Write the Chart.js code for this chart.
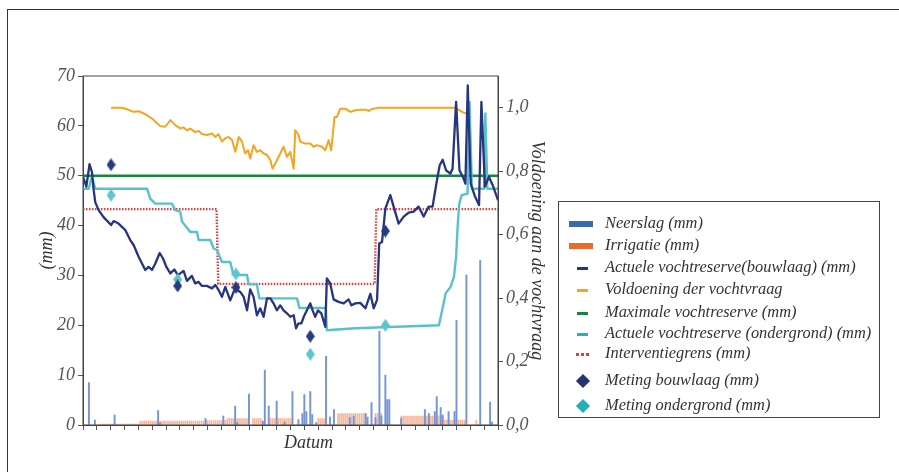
<!DOCTYPE html>
<html>
<head>
<meta charset="utf-8">
<script src="https://cdn.jsdelivr.net/npm/chart.js@4/dist/chart.umd.min.js"></script>
<style>
	body { margin: 0; background: #fff; }
	#wrap { position: relative; width: 899px; height: 472px; overflow: hidden; background: #fff; }
	#frame { position: absolute; left: 7px; top: 9px; width: 1000px; height: 1000px; border: 1.5px solid #333; }
	#chart { position: absolute; left: 0; top: 0; }
	#datum { position: absolute; left: 284px; top: 432px; font: italic 18px "Liberation Serif", serif; color: #333; }
	#legend { position: absolute; left: 558px; top: 201px; width: 322px; height: 217px; box-sizing: border-box;
		border: 1.5px solid #444; font: italic 16.4px "Liberation Serif", serif; color: #333; }
	.item { position: absolute; left: 0; width: 100%; height: 0; }
	.item .t { position: absolute; left: 46px; top: -11px; line-height: 20px; white-space: nowrap; }
	.rect { position: absolute; left: 10px; top: -3px; width: 24px; height: 6px; }
	.dash { position: absolute; left: 18px; top: -1.5px; width: 11px; height: 3px; }
	.dot { position: absolute; top: -1.5px; width: 3px; height: 3px; background: #e53a3a; }
	.ruit { position: absolute; left: 19px; top: -5px; width: 10px; height: 10px; transform: rotate(45deg); }
</style>
</head>
<body>
<div id="wrap">
	<div id="frame"></div>
	<canvas id="chart" width="899" height="472"></canvas>
	<div id="datum">Datum</div>
	<div id="legend">
		<div class="item" style="top:22px"><div class="rect" style="background:#3c68b8"></div><span class="t">Neerslag (mm)</span></div>
		<div class="item" style="top:44px"><div class="rect" style="background:#ec6a2e"></div><span class="t">Irrigatie (mm)</span></div>
		<div class="item" style="top:66px"><div class="dash" style="background:#26357e"></div><span class="t">Actuele vochtreserve(bouwlaag) (mm)</span></div>
		<div class="item" style="top:88px"><div class="dash" style="background:#f5a41d"></div><span class="t">Voldoening der vochtvraag</span></div>
		<div class="item" style="top:111px"><div class="dash" style="background:#17853b"></div><span class="t">Maximale vochtreserve (mm)</span></div>
		<div class="item" style="top:132px"><div class="dash" style="background:#1fb3bd"></div><span class="t">Actuele vochtreserve (ondergrond) (mm)</span></div>
		<div class="item" style="top:152px"><div class="dot" style="left:17px"></div><div class="dot" style="left:22px"></div><div class="dot" style="left:27px"></div><span class="t">Interventiegrens (mm)</span></div>
		<div class="item" style="top:179px"><div class="ruit" style="background:#26336f"></div><span class="t">Meting bouwlaag (mm)</span></div>
		<div class="item" style="top:204px"><div class="ruit" style="background:#1fb0b8"></div><span class="t">Meting ondergrond (mm)</span></div>
	</div>
</div>
<script>
// x = dagnummer in het seizoen (0..210), ticks per week
var neerslagDag = [3, 6, 16, 38, 39, 62, 71, 77, 78, 84, 91, 92, 94, 98, 102, 106, 109, 111, 112, 113, 115, 116, 118, 123, 125,
	127, 135, 137, 143, 144, 146, 148, 150, 151, 153, 154, 155, 161, 173, 175, 178, 179, 181, 182, 185, 188, 189, 194, 201, 206, 207];
var neerslagMm = [8.5, 1.0, 2.0, 2.9, 0.4, 1.3, 1.8, 3.8, 0.5, 6.2, 0.8, 11.0, 3.8, 4.8, 0.6, 6.7, 1.1, 2.3, 6.1, 2.7, 6.7, 2.1, 0.5, 13.8, 1.6,
	3.1, 1.5, 1.8, 2.3, 1.6, 4.5, 1.5, 18.8, 1.8, 10.0, 5.1, 5.1, 1.3, 3.1, 2.3, 2.7, 5.7, 3.5, 2.0, 2.7, 2.7, 21.0, 30.1, 33.0, 4.6, 0.6];

// irrigatie per dag, dag 0 t/m 210
var irrigatieMm = [
	0, 0, 0, 0, 0, 0, 0, 0, 0, 0.2,
	0.2, 0.2, 0.2, 0.2, 0.2, 0.2, 0.2, 0.2, 0.2, 0.2,
	0.2, 0.2, 0.2, 0.2, 0.2, 0.2, 0.2, 0.2, 0.2, 0.8,
	0.8, 0.8, 0.8, 0.8, 0.8, 0.8, 0.8, 0.8, 0.8, 0.8,
	0.8, 0.8, 0.8, 0.8, 0.8, 0.8, 0.8, 0.8, 0.8, 0.8,
	0.8, 0.8, 0.8, 0.8, 0.8, 0.8, 0.8, 0.8, 0.8, 0.8,
	0.8, 0.8, 0.9, 0.9, 0.9, 0.9, 0.9, 0.9, 0.9, 0.9,
	0.9, 0.9, 0.9, 1.3, 1.3, 1.3, 1.3, 1.3, 1.3, 1.3,
	1.3, 1.3, 1.3, 1.3, 0, 0, 1.3, 1.3, 1.3, 1.3,
	1.3, 0, 0, 0, 0, 1.3, 1.3, 1.3, 1.3, 1.3,
	1.3, 1.3, 1.3, 1.3, 1.3, 1.3, 0, 0, 0, 0,
	0, 0, 0, 0, 0, 0, 0, 0, 0, 1.3,
	1.3, 1.3, 1.3, 0, 0, 0, 0, 0, 0, 2.3,
	2.3, 2.3, 2.3, 2.3, 2.3, 2.3, 2.3, 2.3, 2.3, 2.3,
	2.3, 2.3, 2.3, 2.3, 0, 0, 0, 0, 2.3, 2.3,
	2.3, 2.3, 0, 0, 0, 0, 0, 0, 0, 0,
	0, 1.8, 1.8, 1.8, 1.8, 1.8, 1.8, 1.8, 1.8, 1.8,
	1.8, 1.8, 1.8, 1.8, 1.8, 1.8, 1.8, 1.8, 1.8, 1.8,
	1.8, 1.8, 1.8, 1.0, 1.0, 1.0, 1.0, 1.0, 1.0, 0,
	1.0, 1.0, 1.0, 1.0, 0, 0, 0, 0, 0, 1.0,
	0, 0, 0, 0, 0, 0, 0, 0, 0, 0, 0
];

var bouwlaagDag = [0, 1.7, 3.3, 4.5, 5.4, 6.2, 7.9, 10.4, 14.2, 15.5, 18.0, 21.4, 23.9, 25.6, 28.2, 31.5, 33.2, 34.9, 36.6, 38.8,
	40.5, 42.2, 44.2, 46.2, 47.9, 49.2, 50.9, 52.6, 55.1, 56.8, 58.5, 60.2, 62.7, 65.3, 66.9, 68.6, 70.3, 72.0, 74.5, 76.2,
	77.4, 79.6, 81.3, 83.0, 84.6, 86.3, 88.0, 89.7, 91.4, 93.1, 94.8, 96.4, 98.1, 99.8, 101.5, 103.2, 104.9, 106.6, 107.8, 109.1,
	110.5, 111.7, 113.3, 115.0, 116.2, 117.5, 118.9, 120.6, 122.6, 123.4, 125.1, 126.8, 129.3, 131.9, 134.4, 135.8, 137.8, 140.3, 142.9, 145.4,
	147.1, 148.8, 149.9, 151.3, 153.0, 155.5, 157.7, 159.7, 162.3, 164.8, 167.3, 169.8, 172.4, 174.9, 176.9, 179.1, 180.5, 182.0, 183.7, 185.9,
	187.0, 188.8, 190.5, 192.6, 193.5, 194.7, 196.2, 198.2, 200.4, 201.6, 203.4, 205.4, 207.3, 210];
var bouwlaagMm = [49.8, 47.8, 52.3, 50.8, 47.1, 44.7, 43.1, 41.7, 40.1, 40.9, 40.4, 39.1, 37.1, 36.1, 33.7, 31.1, 31.7, 31.1, 32.4, 34.5,
	33.4, 31.7, 30.4, 31.2, 30.1, 30.4, 30.9, 28.9, 29.9, 28.4, 28.7, 27.9, 27.9, 27.4, 28.1, 27.1, 25.7, 27.7, 25.0, 26.7,
	27.2, 26.7, 25.7, 23.0, 27.2, 25.7, 22.0, 23.4, 21.7, 25.4, 25.4, 24.4, 23.0, 24.0, 23.0, 22.4, 21.7, 22.0, 19.4, 20.4,
	20.4, 21.7, 23.0, 24.4, 23.0, 21.7, 23.0, 22.4, 19.7, 29.4, 28.4, 25.2, 24.7, 24.4, 25.2, 24.0, 24.4, 24.5, 23.4, 26.3,
	23.4, 25.1, 36.4, 36.7, 43.4, 46.1, 43.1, 40.4, 41.8, 42.6, 42.8, 43.8, 41.8, 43.8, 43.8, 49.1, 52.1, 53.2, 51.1, 50.4,
	51.4, 64.8, 51.1, 49.4, 48.4, 68.1, 48.4, 46.0, 44.1, 64.8, 47.8, 49.8, 48.1, 45.1];

var ondergrondDag = [0, 2.9, 4.5, 6.2, 32.4, 34.0, 36.6, 45.0, 46.7, 49.2, 50.1, 54.3, 57.7, 58.5, 64.4, 66.1, 67.8, 70.3, 74.5, 76.2,
	83.0, 83.8, 88.0, 89.2, 108.3, 109.5, 122.9, 123.4, 137.8, 180.1, 181.8, 183.5, 186.0, 187.7, 188.8, 189.6, 190.4, 191.6, 194.6, 195.6,
	196.8, 203.0, 203.6, 204.6, 210];
var ondergrondMm = [47.4, 47.4, 49.8, 47.4, 47.4, 45.4, 44.4, 44.4, 43.1, 42.8, 40.8, 38.7, 38.7, 37.1, 37.1, 35.4, 35.1, 32.7, 32.7, 30.1,
	30.1, 28.2, 28.2, 25.4, 25.4, 23.5, 23.5, 19.0, 19.4, 20.0, 23.1, 26.4, 27.7, 29.7, 33.7, 40.0, 44.4, 46.1, 46.4, 64.8,
	47.4, 47.4, 62.5, 47.4, 47.4];

var voldoeningDag = [14.2, 19.7, 22.3, 25.6, 28.2, 31.5, 34.9, 39.1, 41.6, 44.2, 46.7, 49.2, 50.9, 52.6, 54.3, 56.8, 58.5, 60.2, 62.7, 65.3,
	66.9, 68.6, 70.3, 72.0, 73.7, 75.4, 77.1, 78.8, 80.4, 82.1, 83.5, 84.6, 86.3, 88.0, 89.7, 91.4, 93.1, 94.8, 95.9, 97.3,
	99.0, 100.6, 101.5, 103.2, 104.9, 106.6, 107.4, 109.1, 109.9, 112.5, 115.0, 116.7, 118.4, 120.9, 122.6, 124.3, 125.6, 127.3, 128.5, 130.2,
	132.7, 135.3, 137.8, 140.3, 142.9, 144.6, 146.2, 149.6, 188.4, 191.8, 194.8];
var voldoeningFr = [1.0, 1.0, 0.995, 0.987, 0.989, 0.980, 0.966, 0.942, 0.940, 0.961, 0.945, 0.935, 0.938, 0.929, 0.934, 0.923, 0.927, 0.917, 0.914, 0.919,
	0.908, 0.917, 0.893, 0.904, 0.908, 0.898, 0.861, 0.908, 0.893, 0.856, 0.866, 0.840, 0.882, 0.861, 0.866, 0.856, 0.851, 0.835, 0.808, 0.824,
	0.845, 0.866, 0.877, 0.845, 0.861, 0.808, 0.929, 0.914, 0.893, 0.887, 0.887, 0.877, 0.882, 0.877, 0.866, 0.898, 0.866, 0.971, 0.971, 0.997,
	0.997, 0.987, 0.992, 0.994, 0.994, 0.990, 0.996, 1.0, 1.0, 0.987, 0.980];

var maxDag = [0, 210];
var maxMm = [50, 50];
var interventieDag = [0, 67.6, 68.4, 147.6, 148.4, 210];
var interventieMm = [43.3, 43.3, 28.3, 28.3, 43.3, 43.3];

var metingDag = [14.2, 47.9, 77.4, 115, 153];
var metingBouwlaag = [52.2, 27.9, 27.6, 17.8, 38.9];
var metingOndergrond = [46.1, 29.2, 30.3, 14.2, 20.0];

function punten(xs, ys) {
	return xs.map(function(x, i) { return { x: x, y: ys[i] }; });
}

function ruit(kleur) {
	var c = document.createElement('canvas');
	c.width = 9;
	c.height = 13;
	var g = c.getContext('2d');
	g.fillStyle = kleur;
	g.beginPath();
	g.moveTo(4.5, 0);
	g.lineTo(9, 6.5);
	g.lineTo(4.5, 13);
	g.lineTo(0, 6.5);
	g.closePath();
	g.fill();
	return c;
}

var font = { family: 'Liberation Serif', style: 'italic', size: 18 };

// lijn rond het plotvlak
var kader = {
	id: 'kader',
	afterDraw: function(chart) {
		var a = chart.chartArea;
		var ctx = chart.ctx;
		ctx.save();
		ctx.strokeStyle = '#444';
		ctx.lineWidth = 1;
		ctx.strokeRect(a.left, a.top, a.right - a.left, a.bottom - a.top);
		ctx.restore();
	}
};

var line = { type: 'line', pointRadius: 0, tension: 0, fill: false, borderJoinStyle: 'round' };

new Chart(document.getElementById('chart'), {
	type: 'line',
	data: {
		datasets: [
			Object.assign({}, line, { type: 'scatter', label: 'Meting bouwlaag (mm)', data: punten(metingDag, metingBouwlaag),
				pointStyle: ruit('#283a80'), pointRadius: 6, showLine: false, order: 0 }),
			Object.assign({}, line, { type: 'scatter', label: 'Meting ondergrond (mm)', data: punten(metingDag, metingOndergrond),
				pointStyle: ruit('#5cc6cc'), pointRadius: 6, showLine: false, order: 0 }),
			Object.assign({}, line, { label: 'Actuele vochtreserve(bouwlaag) (mm)', data: punten(bouwlaagDag, bouwlaagMm),
				borderColor: '#26357e', borderWidth: 2.3, order: 1 }),
			Object.assign({}, line, { label: 'Voldoening der vochtvraag', data: punten(voldoeningDag, voldoeningFr),
				borderColor: '#f5a41d', borderWidth: 2, yAxisID: 'y1', order: 2 }),
			Object.assign({}, line, { label: 'Actuele vochtreserve (ondergrond) (mm)', data: punten(ondergrondDag, ondergrondMm),
				borderColor: '#58c2ca', borderWidth: 2.4, order: 2 }),
			Object.assign({}, line, { label: 'Interventiegrens (mm)', data: punten(interventieDag, interventieMm),
				borderColor: '#e53a3a', borderWidth: 2.4, borderDash: [1.5, 1.5], order: 3 }),
			Object.assign({}, line, { label: 'Maximale vochtreserve (mm)', data: punten(maxDag, maxMm),
				borderColor: '#17853b', borderWidth: 2.6, order: 4 }),
			{ type: 'bar', label: 'Irrigatie (mm)', data: punten(irrigatieMm.map(function(v, i) { return i; }), irrigatieMm),
				backgroundColor: '#f7b899', barThickness: 1, grouped: false, order: 6 },
			{ type: 'bar', label: 'Neerslag (mm)', data: punten(neerslagDag, neerslagMm),
				backgroundColor: '#7596d6', barThickness: 1.3, grouped: false, order: 5 }
		]
	},
	options: {
		responsive: false,
		animation: false,
		devicePixelRatio: 1,
		layout: { padding: { left: 0, right: 341, top: 76, bottom: 0 } },
		plugins: { legend: { display: false }, tooltip: { enabled: false } },
		scales: {
			x: {
				type: 'linear', min: 0, max: 210, offset: false,
				ticks: { stepSize: 7, autoSkip: false, callback: function() { return ''; } },
				grid: { drawOnChartArea: false, offset: false, tickLength: 5, color: '#555' },
				border: { color: '#444' },
				title: { display: false },
				afterFit: function(s) { s.height = 47; }
			},
			y: {
				position: 'left', min: 0, max: 70,
				ticks: { stepSize: 10, padding: 3, color: '#555', font: font },
				grid: { drawOnChartArea: false, tickLength: 5, color: '#555' },
				border: { color: '#444' },
				title: { display: true, text: '(mm)', color: '#333', font: font, padding: { top: 36 } },
				afterFit: function(s) { s.width = 83; }
			},
			y1: {
				position: 'right', min: 0, max: 1.1,
				ticks: { stepSize: 0.2, includeBounds: false, padding: 3, color: '#555', font: font,
					callback: function(v) { return v.toFixed(1).replace('.', ','); } },
				grid: { drawOnChartArea: false, tickLength: 5, color: '#555' },
				border: { color: '#444' },
				title: { display: true, text: 'Voldoening aan de vochtvraag', color: '#333', font: font, padding: { top: 10 } },
				afterFit: function(s) { s.width = 60; }
			}
		}
	},
	plugins: [kader]
});
</script>
</body>
</html>
